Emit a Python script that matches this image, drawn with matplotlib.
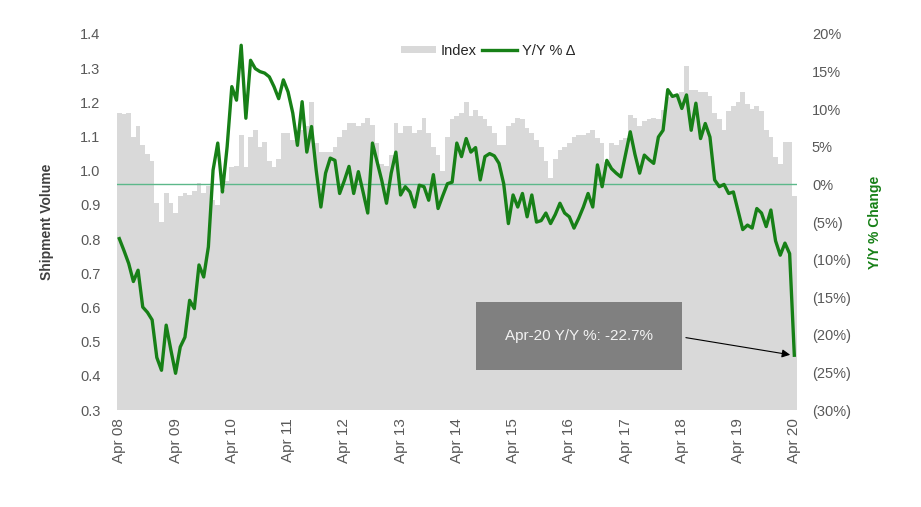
import matplotlib.pyplot as plt
from matplotlib.patches import Rectangle, Patch
from matplotlib.lines import Line2D
from matplotlib.ticker import FuncFormatter

plt.rcParams['font.family'] = ['Liberation Sans', 'DejaVu Sans']

# monthly, Apr 2008 .. Apr 2020
index = [1.17, 1.165, 1.17, 1.10, 1.13, 1.075, 1.05, 1.03, 0.905, 0.85, 0.935, 0.905,
         0.876, 0.925, 0.935, 0.93, 0.94, 0.964, 0.935, 0.955, 0.915, 0.90, 0.945, 0.97,
         1.01, 1.015, 1.105, 1.01, 1.10, 1.12, 1.07, 1.085, 1.03, 1.01, 1.035, 1.11,
         1.11, 1.09, 1.12, 1.12, 1.13, 1.20, 1.08, 1.056, 1.056, 1.056, 1.07, 1.10,
         1.12, 1.14, 1.14, 1.13, 1.14, 1.155, 1.135, 1.08, 1.02, 1.015, 1.045, 1.14,
         1.11, 1.13, 1.13, 1.11, 1.12, 1.155, 1.11, 1.07, 1.045, 1.0, 1.10, 1.15,
         1.16, 1.17, 1.20, 1.16, 1.178, 1.16, 1.15, 1.13, 1.11, 1.075, 1.075, 1.13,
         1.14, 1.155, 1.15, 1.125, 1.11, 1.09, 1.07, 1.03, 0.98, 1.035, 1.06, 1.07,
         1.08, 1.10, 1.105, 1.105, 1.11, 1.12, 1.095, 1.08, 1.027, 1.08, 1.075, 1.09,
         1.095, 1.163, 1.155, 1.13, 1.145, 1.15, 1.155, 1.15, 1.178, 1.217, 1.22, 1.22,
         1.23, 1.305, 1.235, 1.235, 1.23, 1.23, 1.22, 1.17, 1.15, 1.12, 1.175, 1.19,
         1.20, 1.23, 1.195, 1.18, 1.19, 1.175, 1.12, 1.10, 1.04, 1.02, 1.085, 1.085,
         0.925]

yoy = [-7.2, -8.8, -10.5, -12.9, -11.4, -16.3, -17.0, -18.0, -23.0, -24.7, -18.7, -22.0,
       -25.1, -21.6, -20.3, -15.4, -16.5, -10.7, -12.3, -8.3, 1.9, 5.5, -1.0, 5.0,
       13.0, 11.2, 18.5, 8.8, 16.5, 15.4, 15.0, 14.8, 14.3, 13.0, 11.4, 13.9,
       12.3, 9.5, 5.2, 11.0, 4.3, 7.7, 1.9, -3.0, 1.5, 3.5, 3.2, -1.2,
       0.5, 2.4, -1.2, 1.7, -1.0, -3.8, 5.5, 3.0, 0.5, -2.5, 1.5, 4.3,
       -1.4, -0.3, -1.0, -3.0, -0.1, -0.3, -2.1, 1.3, -3.2, -1.5, 0.1, 0.3,
       5.5, 3.7, 6.1, 4.3, 4.9, 0.6, 3.7, 4.1, 3.8, 2.8, 0.1, -5.2,
       -1.4, -3.0, -1.2, -4.3, -1.4, -5.0, -4.8, -3.8, -5.2, -4.0, -2.5, -3.8,
       -4.3, -5.8, -4.5, -3.0, -1.2, -3.0, 2.6, -0.3, 3.2, 2.1, 1.5, 1.0,
       4.0, 7.0, 4.0, 1.5, 3.9, 3.3, 2.8, 6.3, 7.2, 12.6, 11.7, 11.9,
       10.1, 11.9, 7.2, 10.8, 6.1, 8.1, 6.3, 0.6, -0.3, 0.0, -1.2, -1.0,
       -3.5, -6.0, -5.4, -5.8, -3.2, -3.8, -5.6, -3.4, -7.5, -9.4, -7.8, -9.2,
       -22.7]

year_labels = ['Apr 08', 'Apr 09', 'Apr 10', 'Apr 11', 'Apr 12', 'Apr 13', 'Apr 14',
               'Apr 15', 'Apr 16', 'Apr 17', 'Apr 18', 'Apr 19', 'Apr 20']

txt = '#595959'
green = '#178017'

fig = plt.figure(figsize=(9.21, 5.07), dpi=100)
ax = fig.add_axes([0.127, 0.191, 0.738, 0.742])
x = list(range(len(index)))
ax.bar(x, index, width=1.0, color='#d9d9d9', linewidth=0)
ax.set_ylim(0.3, 1.4)
ax.set_xlim(-0.5, len(index) - 0.5)
ax.set_yticks([0.3 + 0.1 * k for k in range(12)])
ax.yaxis.set_major_formatter(FuncFormatter(lambda v, p: f'{v:.1f}'))
ax.set_xticks(range(0, len(index), 12))
ax.set_xticklabels(year_labels, rotation=90)
ax.tick_params(axis='y', length=0, labelsize=10.5, labelcolor=txt, pad=12)
ax.tick_params(axis='x', length=0, labelsize=11, labelcolor=txt, pad=6)
for s in ax.spines.values():
    s.set_visible(False)
ax.set_ylabel('Shipment Volume', fontsize=10, fontweight='bold', color='#404040', labelpad=19)

ax2 = ax.twinx()
ax2.axhline(0, color='#5cb88a', lw=1)
ax2.plot(x, yoy, color=green, lw=2.4)
ax2.set_ylim(-30, 20)
ax2.set_yticks(range(-30, 21, 5))


def pct(v, p):
    v = int(round(v))
    return f'({abs(v)}%)' if v < 0 else f'{v}%'


ax2.yaxis.set_major_formatter(FuncFormatter(pct))
ax2.tick_params(length=0, labelsize=10.5, labelcolor=txt, pad=11)
for s in ax2.spines.values():
    s.set_visible(False)
ax2.set_ylabel('Y/Y % Change', fontsize=10, fontweight='bold', color=green, labelpad=12)

# callout box
ax2.add_patch(Rectangle((0.528, 0.106), 0.304, 0.181, transform=ax2.transAxes,
                        facecolor='#808080', edgecolor='none', zorder=5))
ax2.text(0.680, 0.196, f'Apr-20 Y/Y %: {yoy[-1]:.1f}%', transform=ax2.transAxes,
         ha='center', va='center', fontsize=11, color='#f2f2f2', zorder=6)
ax2.annotate('', xy=(x[-1] - 0.3, yoy[-1]), xytext=(0.833, 0.194),
             textcoords='axes fraction',
             arrowprops=dict(arrowstyle='-|>', color='black', lw=0.8, mutation_scale=12),
             zorder=6)

handles = [Patch(facecolor='#d9d9d9', edgecolor='none'),
           Line2D([0], [0], color=green, lw=2.4)]
fig.legend(handles, ['Index', 'Y/Y % Δ'], loc='center', bbox_to_anchor=(0.53, 0.9),
           ncol=2, frameon=False, fontsize=10.5, handlelength=2.4, handleheight=0.45,
           columnspacing=0.4, handletextpad=0.3, labelcolor='#262626')

fig.savefig('out.png', dpi=100)
